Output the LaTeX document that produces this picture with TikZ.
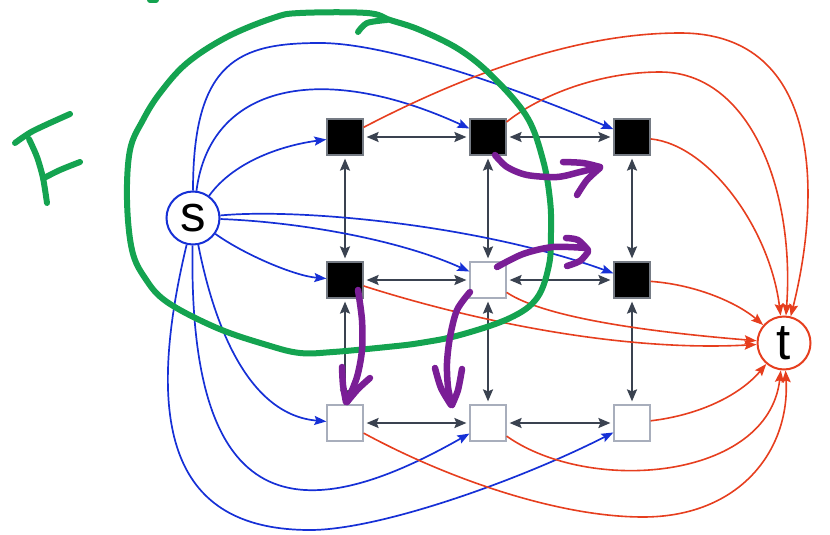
\documentclass[tikz,border=0pt]{standalone}
\usepackage{fontspec}
\newfontfamily\labelfont{Liberation Sans}
\usetikzlibrary{arrows.meta}
\definecolor{edgeblue}{RGB}{22,48,214}
\definecolor{edgered}{RGB}{230,62,30}
\definecolor{gridgray}{RGB}{58,66,80}
\definecolor{boxgray}{RGB}{168,174,188}
\definecolor{penGreen}{RGB}{20,163,80}
\definecolor{penPurple}{RGB}{122,30,150}

\begin{document}
\begin{tikzpicture}[x=1pt,y=-1pt,
  terminal/.style={circle, minimum size=53pt, inner sep=0pt, line width=2pt,
    fill=white, font=\labelfont\fontsize{51}{51}\selectfont},
  source/.style={terminal, draw=edgeblue},
  sink/.style={terminal, draw=edgered},
  cell/.style={rectangle, minimum size=36pt, inner sep=0pt, line width=1.2pt},
  blackcell/.style={cell, fill=black, draw=gridgray!70},
  whitecell/.style={cell, fill=white, draw=boxgray},
  gridlink/.style={draw=gridgray, line width=2pt, shorten <=3pt, shorten >=3pt,
    {Stealth[length=12pt,width=10pt,inset=2pt]}-{Stealth[length=12pt,width=10pt,inset=2pt]}},
  srcedge/.style={draw=edgeblue, line width=1.7pt,
    -{Stealth[length=12pt,width=9pt,inset=2pt]}},
  sinkedge/.style={draw=edgered, line width=1.6pt,
    -{Stealth[length=12pt,width=9pt,inset=2pt]}},
  greenpen/.style={draw=penGreen, line width=6pt, line cap=round, line join=round},
  purplepen/.style={draw=penPurple, line width=6.5pt, line cap=round, line join=round}
]
\useasboundingbox (0,0) rectangle (830,535);

% terminals
\node[source] (s) at (193,218) {s};
\node[sink] (t) at (784,343) {t};

% 3x3 grid of cells
\node[blackcell] (A00) at (345,137) {};
\node[blackcell] (A01) at (488,137) {};
\node[blackcell] (A02) at (632,137) {};
\node[blackcell] (A10) at (345,280) {};
\node[whitecell] (A11) at (488,280) {};
\node[blackcell] (A12) at (632,280) {};
\node[whitecell] (A20) at (345,423) {};
\node[whitecell] (A21) at (488,423) {};
\node[whitecell] (A22) at (632,423) {};

% neighbour links
\foreach \a/\b in {A00/A01, A01/A02, A10/A11, A11/A12, A20/A21, A21/A22,
                   A00/A10, A10/A20, A01/A11, A11/A21, A02/A12, A12/A22}
  \draw[gridlink] (\a) -- (\b);

% source edges
\draw[srcedge] (s) .. controls (235,160) and (285,145) .. (A00);
\draw[srcedge] (s) .. controls (210,85) and (320,60) .. (A01);
\draw[srcedge] (s) .. controls (193,60) and (240,43) .. (320,43)
                   .. controls (390,43) and (520,90) .. (A02);
\draw[srcedge] (s) .. controls (245,255) and (295,276) .. (A10);
\draw[srcedge] (s) .. controls (300,222) and (400,240) .. (A11);
\draw[srcedge] (s) .. controls (300,208) and (480,225) .. (A12);
\draw[srcedge] (s) .. controls (215,330) and (250,415) .. (A20);
\draw[srcedge] (s) .. controls (188,520) and (300,530) .. (A21);
\draw[srcedge] (s) .. controls (140,440) and (180,530) .. (310,530)
                   .. controls (380,530) and (520,480) .. (A22);

% sink edges
\draw[sinkedge] (A00) .. controls (470,72) and (580,33) .. (680,33)
                      .. controls (825,33) and (820,200) .. (t);
\draw[sinkedge] (A01) .. controls (540,95) and (600,72) .. (660,72)
                      .. controls (750,72) and (795,190) .. (t);
\draw[sinkedge] (A02) .. controls (710,145) and (770,230) .. (t);
\draw[sinkedge] (A12) .. controls (700,285) and (740,305) .. (t);
\draw[sinkedge] (A11) .. controls (545,318) and (650,332) .. (t);
\draw[sinkedge] (A10) .. controls (470,320) and (620,352) .. (t);
\draw[sinkedge] (A22) .. controls (700,415) and (740,395) .. (t);
\draw[sinkedge] (A21) .. controls (590,495) and (768,480) .. (t);
\draw[sinkedge] (A20) .. controls (450,480) and (560,517) .. (643,517)
                      .. controls (740,517) and (790,450) .. (t);

% hand-drawn set F
\draw[greenpen] plot[smooth cycle, tension=0.6] coordinates {
  (127,200) (130,150) (143,120) (160,93) (187,63) (227,37) (273,18) (300,13)
  (367,13) (390,20) (420,30) (460,50) (493,77) (527,117) (543,160) (550,200)
  (551,232) (549,265) (537,298) (510,318) (460,335) (420,343) (387,347)
  (333,352) (300,353) (267,345) (217,328) (167,302) (145,278) (132,250)};
\draw[greenpen] plot[smooth] coordinates {(358,32) (367,23) (387,20)};
\draw[greenpen] (150,0) -- (156,0);
% letter F
\draw[greenpen] plot[smooth] coordinates {(15,143) (33,131) (70,114)};
\draw[greenpen] plot[smooth] coordinates {(29,139) (37,157) (43,178) (47,203)};
\draw[greenpen] plot[smooth] coordinates {(44,178) (60,170) (80,162)};

% hand-drawn arrows
\draw[purplepen] plot[smooth] coordinates {(495,155) (507,167) (527,175) (557,177) (580,172) (600,167)};
\draw[purplepen] plot[smooth] coordinates {(563,162) (583,163) (600,167)};
\draw[purplepen] plot[smooth] coordinates {(600,168) (587,180) (577,195)};

\draw[purplepen] plot[smooth] coordinates {(497,267) (523,254) (553,247) (586,248)};
\draw[purplepen] plot[smooth] coordinates {(566,238) (578,240) (588,250)};
\draw[purplepen] plot[smooth] coordinates {(588,252) (580,261) (567,266)};

\draw[purplepen] plot[smooth] coordinates {(358,290) (362,320) (362,350) (357,377) (347,402)};
\draw[purplepen] plot[smooth] coordinates {(342,367) (343,385) (346,402)};
\draw[purplepen] plot[smooth] coordinates {(370,378) (358,389) (347,402)};

\draw[purplepen] plot[smooth] coordinates {(470,292) (457,310) (450,337) (447,363) (448,387) (452,405)};
\draw[purplepen] plot[smooth] coordinates {(435,368) (441,388) (451,405)};
\draw[purplepen] plot[smooth] coordinates {(462,369) (458,390) (452,405)};
\end{tikzpicture}
\end{document}
